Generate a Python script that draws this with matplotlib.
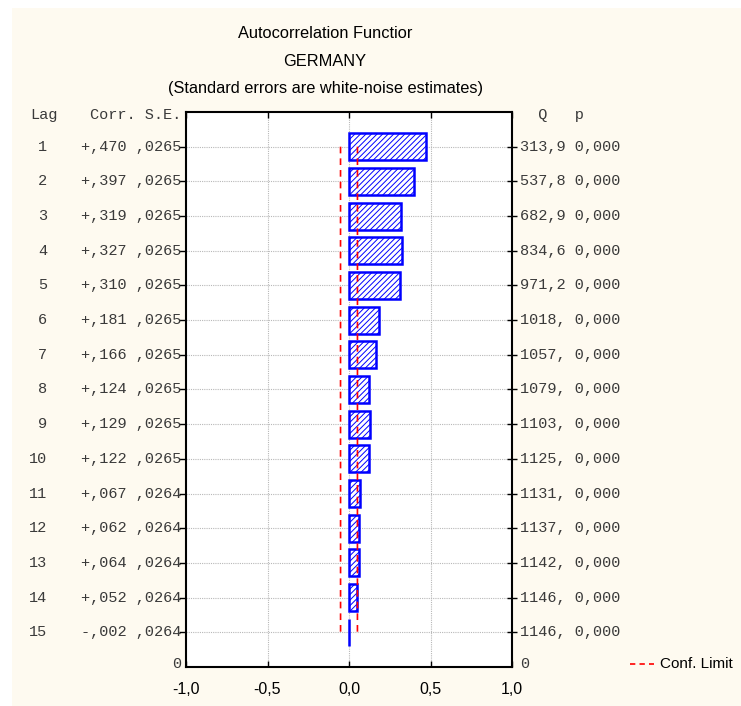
import matplotlib.pyplot as plt
import matplotlib.transforms as mtransforms
from matplotlib.lines import Line2D

lags = [1, 2, 3, 4, 5, 6, 7, 8, 9, 10, 11, 12, 13, 14, 15]
corr = [0.470, 0.397, 0.319, 0.327, 0.310, 0.181, 0.166, 0.124, 0.129,
        0.122, 0.067, 0.062, 0.064, 0.052, -0.002]
se = [0.0265] * 10 + [0.0264] * 5
q_stat = ["313,9", "537,8", "682,9", "834,6", "971,2", "1018,", "1057,",
          "1079,", "1103,", "1125,", "1131,", "1137,", "1142,", "1146,", "1146,"]
p_val = ["0,000"] * 15
xtick_vals = [-1.0, -0.5, 0.0, 0.5, 1.0]
xtick_labels = ["-1,0", "-0,5", "0,0", "0,5", "1,0"]

W, H = 741, 706
fig = plt.figure(figsize=(W / 100, H / 100), dpi=100, facecolor="white")
# cream panel background
fig.patches.append(plt.Rectangle((12 / W, 0), 1, 1 - 8 / H, transform=fig.transFigure,
                                 facecolor="#fefaf0", edgecolor="none", zorder=-10))

ax = fig.add_axes([186 / W, (H - 667) / H, (512 - 186) / W, (667 - 112) / H])
ax.set_facecolor("white")

ypos = [16 - l for l in lags]

# grid
for y in ypos:
    ax.axhline(y, color="#b8b8b8", lw=0.8, ls=(0, (1, 1)), zorder=1)
for x in [-0.5, 0.0, 0.5]:
    ax.axvline(x, color="#b8b8b8", lw=0.8, ls=(0, (1, 1)), zorder=1)

plt.rcParams["hatch.linewidth"] = 0.7
ax.barh(ypos, corr, height=0.78, left=0, facecolor="white", edgecolor="#0000ff",
        hatch="//////", lw=1.8, zorder=3)

# confidence limits (about 2 * s.e.)
conf = [1.96 * s for s in se]
ax.plot(conf, ypos, color="red", lw=1.2, ls=(0, (4, 3)), zorder=4)
ax.plot([-c for c in conf], ypos, color="red", lw=1.2, ls=(0, (4, 3)), zorder=4)

ax.set_xlim(-1, 1)
ax.set_ylim(0, 16)
ax.set_xticks(xtick_vals)
ax.set_xticklabels(xtick_labels, family=["Liberation Sans", "DejaVu Sans"], fontsize=11.5)
ax.tick_params(axis="x", direction="in", top=True, length=4, width=1, pad=11, colors="black")
ax.set_yticks(ypos)
ax.set_yticklabels([])
ax.tick_params(axis="y", direction="out", length=5, width=1, right=False)
for y in ypos:
    ax.plot([1.0], [y], marker="_", color="black", ms=7, mew=1, clip_on=False, zorder=5)
for s in ax.spines.values():
    s.set_linewidth(1.5)
    s.set_color("black")

# table text beside the axes
trans = mtransforms.blended_transform_factory(fig.transFigure, ax.transData)
mono = dict(family=["Liberation Mono", "DejaVu Sans Mono"], fontsize=11, color="#3a3a3a",
            va="center", transform=trans)
for l, y, c, s, q, p in zip(lags, ypos, corr, se, q_stat, p_val):
    ax.text(47 / W, y, str(l), ha="right", **mono)
    sign = "+" if c >= 0 else "-"
    ctxt = sign + ("%.3f" % abs(c))[1:].replace(".", ",")
    stxt = ("%.4f" % s)[1:].replace(".", ",")
    ax.text(181 / W, y, ctxt + " " + stxt, ha="right", **mono)
    ax.text(520 / W, y, q + " " + p, ha="left", **mono)

ax.text(58 / W, 15.9, "Lag", ha="right", **mono)
ax.text(181 / W, 15.9, "Corr. S.E.", ha="right", **mono)
ax.text(520 / W, 15.9, "  Q   p", ha="left", **mono)
ax.text(181 / W, 0.1, "0", ha="right", **mono)
ax.text(520 / W, 0.1, "0", ha="left", **mono)

# title
tfont = dict(family=["Liberation Sans", "DejaVu Sans"],
             fontsize=11.8, ha="center", va="center", color="black")
fig.text(325 / W, 1 - 34 / H, "Autocorrelation Functior", **tfont)
fig.text(325 / W, 1 - 62 / H, "GERMANY", **tfont)
fig.text(325 / W, 1 - 88 / H, "(Standard errors are white-noise estimates)", **tfont)

# legend
fig.lines.append(Line2D([630 / W, 654 / W], [1 - 664 / H] * 2, transform=fig.transFigure,
                        color="red", lw=1.2, ls=(0, (3.2, 2.5))))
fig.text(660 / W, 1 - 664 / H, "Conf. Limit", ha="left", va="center",
         family=["Liberation Sans", "DejaVu Sans"], fontsize=11, color="black")

fig.savefig("out.png", dpi=100)
